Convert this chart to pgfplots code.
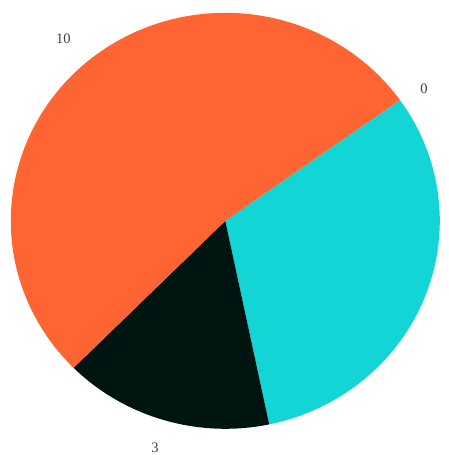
\documentclass[border=0pt]{standalone}
\usepackage{pgfplots}
\usepackage{pgfplotstable}
\pgfplotsset{compat=1.18}
\usepackage{fontspec}
\setmainfont{Liberation Serif}
\definecolor{cyanc}{HTML}{13D5D6}
\definecolor{orangec}{HTML}{FF6433}
\definecolor{darkc}{HTML}{011510}
\pgfplotstableread{
label value
0 6
3 3
10 10
}\piedata
\pgfplotstablegetelem{0}{value}\of\piedata \let\va\pgfplotsretval
\pgfplotstablegetelem{1}{value}\of\piedata \let\vb\pgfplotsretval
\pgfplotstablegetelem{2}{value}\of\piedata \let\vc\pgfplotsretval
\pgfmathsetmacro{\tot}{\va+\vb+\vc}
\pgfmathsetmacro{\aA}{35.5}
\pgfmathsetmacro{\aB}{\aA-360*\va/\tot}
\pgfmathsetmacro{\aC}{\aB-360*\vb/\tot}
\pgfmathsetmacro{\aD}{\aC-360*\vc/\tot}
\def\cx{225.3}\def\cy{234.2}\def\rx{214.5}\def\ry{208}
\begin{document}
\begin{tikzpicture}
\useasboundingbox (0,0) rectangle (449pt,455pt);
\begin{axis}[
  at={(0,0)}, anchor=south west,
  scale only axis, width=449pt, height=455pt,
  xmin=0, xmax=449, ymin=0, ymax=455,
  hide axis, clip=false,
]
\addplot[fill=cyanc, draw=none, domain=\aB:\aA, samples=100, variable=\t]
  ({\cx+\rx*cos(\t)},{\cy+\ry*sin(\t)}) -- (axis cs:\cx,\cy) -- cycle;
\addplot[fill=darkc, draw=none, domain=\aC:\aB, samples=60, variable=\t]
  ({\cx+\rx*cos(\t)},{\cy+\ry*sin(\t)}) -- (axis cs:\cx,\cy) -- cycle;
\addplot[fill=orangec, draw=none, domain=\aD:\aC, samples=160, variable=\t]
  ({\cx+\rx*cos(\t)},{\cy+\ry*sin(\t)}) -- (axis cs:\cx,\cy) -- cycle;
\node[inner sep=0pt, font=\fontsize{14.5}{16}\selectfont, text=black!75] at (axis cs:63.3,416.3) {10};
\node[inner sep=0pt, font=\fontsize{14.5}{16}\selectfont, text=black!75] at (axis cs:424,366.5) {0};
\node[inner sep=0pt, font=\fontsize{14.5}{16}\selectfont, text=black!75] at (axis cs:155,7.5) {3};
\end{axis}
\end{tikzpicture}
\end{document}
